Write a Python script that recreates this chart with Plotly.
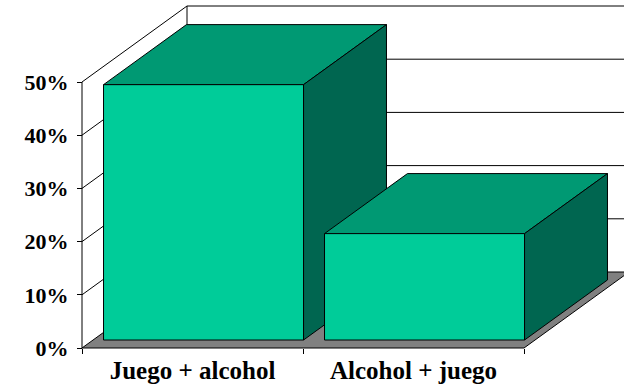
import plotly.graph_objects as go

# Data
categories = ["Juego + alcohol", "Alcohol + juego"]
values = [0.48, 0.20]
y_ticks = [0.0, 0.1, 0.2, 0.3, 0.4, 0.5]
y_max = 0.5

# Oblique 3D geometry (in data units: x = category units, y = fraction)
W, H = 624, 387
PX_X = 221.0          # pixels per category
PX_Y = 532.0          # pixels per unit (100%)
ORIGIN_X, ORIGIN_Y = 82, 348   # pixel location of the front-left floor corner
DX = 105 / PX_X       # depth offset along x
DY = 76 / PX_Y        # depth offset along y
GAP = 10.5 / PX_X     # gap on each side of a bar inside its category
F0, F1 = 0.105, 0.895 # bar front/back depth as fraction of the full depth

FRONT = "#00CC99"
TOP = "#009973"
SIDE = "#006650"
FLOOR = "#808080"

x_left = -0.5
x_right = x_left + len(categories)

fig = go.Figure()


def poly(xs, ys, fill, line="black", width=1):
    fig.add_trace(go.Scatter(
        x=list(xs) + [xs[0]], y=list(ys) + [ys[0]],
        mode="lines", fill="toself", fillcolor=fill,
        line=dict(color=line, width=width),
        hoverinfo="skip", showlegend=False,
    ))


def lines(xs, ys, color="black", width=1):
    fig.add_trace(go.Scatter(
        x=xs, y=ys, mode="lines",
        line=dict(color=color, width=width),
        hoverinfo="skip", showlegend=False,
    ))


# Floor
poly([x_left, x_right, x_right + DX, x_left + DX],
     [0, 0, DY, DY], FLOOR)

# Side wall diagonals and back wall gridlines
gx, gy = [], []
for v in y_ticks[1:]:
    gx += [x_left, x_left + DX, x_right + DX, None]
    gy += [v, v + DY, v + DY, None]
# back wall left edge and front axis line
gx += [x_left + DX, x_left + DX, None, x_left, x_left]
gy += [DY, y_max + DY, None, 0, y_max]
lines(gx, gy)

# Bars
for i, v in enumerate(values):
    x0 = i - 0.5 + GAP + F0 * DX
    x1 = i + 0.5 - GAP + F0 * DX
    y0 = F0 * DY
    y1 = v + F0 * DY
    ddx = (F1 - F0) * DX
    ddy = (F1 - F0) * DY
    poly([x0, x1, x1 + ddx, x0 + ddx], [y1, y1, y1 + ddy, y1 + ddy], TOP)
    poly([x1, x1 + ddx, x1 + ddx, x1], [y0, y0 + ddy, y1 + ddy, y1], SIDE)
    poly([x0, x1, x1, x0], [y0, y0, y1, y1], FRONT)

font_lbl = dict(family="Liberation Serif", color="black", weight="bold")

fig.update_layout(
    width=W, height=H,
    margin=dict(l=0, r=0, t=0, b=0),
    paper_bgcolor="white", plot_bgcolor="white",
    showlegend=False,
    xaxis=dict(
        domain=[0, 1],
        range=[x_left - ORIGIN_X / PX_X, x_left + (W - ORIGIN_X) / PX_X],
        anchor="free", position=(H - ORIGIN_Y) / H,
        showgrid=False, zeroline=False, showline=False,
        tickmode="array", tickvals=list(range(len(categories))),
        ticktext=categories, ticks="",
        tickfont=dict(size=25, **font_lbl),
        ticklabelstandoff=5,
        minor=dict(tickmode="array",
                   tickvals=[x_left + k for k in range(len(categories) + 1)],
                   ticks="outside", ticklen=5, tickcolor="black", tickwidth=1),
        fixedrange=True,
    ),
    yaxis=dict(
        domain=[0, 1],
        range=[-(H - ORIGIN_Y) / PX_Y, ORIGIN_Y / PX_Y],
        anchor="free", position=ORIGIN_X / W,
        showgrid=False, zeroline=False, showline=False,
        tickmode="array", tickvals=y_ticks, tickformat=".0%",
        ticks="outside", ticklen=5, tickcolor="black", tickwidth=1,
        tickfont=dict(size=22, **font_lbl),
        ticklabelstandoff=4,
        fixedrange=True,
    ),
)

fig.write_html("out.html")
